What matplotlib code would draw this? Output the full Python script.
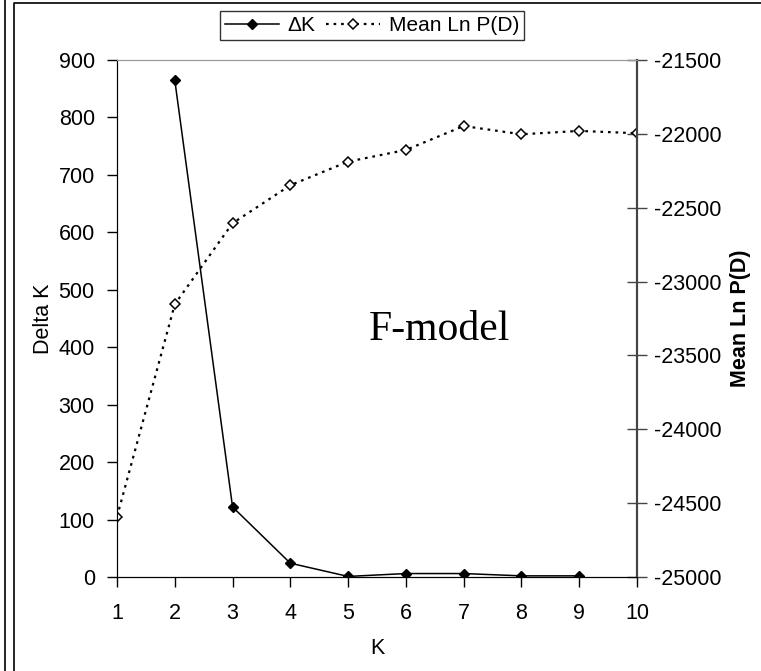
import matplotlib
matplotlib.use("Agg")
import matplotlib.pyplot as plt
from matplotlib.lines import Line2D

plt.rcParams['font.family'] = ['Liberation Sans', 'DejaVu Sans']
plt.rcParams['axes.unicode_minus'] = False

# data
k_all = [1, 2, 3, 4, 5, 6, 7, 8, 9, 10]
k_delta = [2, 3, 4, 5, 6, 7, 8, 9]
delta_k = [865, 122, 24, 1, 6, 6, 2, 2]
mean_lnp = [-24592, -23154, -22605, -22348, -22188, -22109, -21947, -22003, -21980, -21996]

fig = plt.figure(figsize=(7.61, 6.71), dpi=100)
ax = fig.add_axes([117/761, 1 - 577/671, 520/761, 517/671])
ax2 = ax.twinx()

l1, = ax.plot(k_delta, delta_k, color='black', lw=1.1, marker='D', ms=5.5,
              mfc='black', mec='black', zorder=3)
l2, = ax2.plot(k_all, mean_lnp, color='black', lw=1.6, ls=(0, (1.2, 2.2)),
               marker='D', ms=5, mfc='white', mec='black', mew=1.1)

ax.set_xlim(1, 10)
ax.set_ylim(0, 900)
ax2.set_ylim(-25000, -21500)
ax.set_xticks(k_all)
ax.set_yticks(range(0, 901, 100))
ax2.set_yticks(range(-25000, -21499, 500))

ax.tick_params(axis='y', direction='out', length=7, width=1, labelsize=15.5, pad=9)
ax.tick_params(axis='x', direction='out', length=7, width=1, labelsize=15.5, pad=12)
ax2.tick_params(axis='y', direction='inout', length=15, width=1, colors='#444444',
                labelcolor='black', labelsize=15.5, pad=5)

ax.set_xlabel('K', fontsize=15.5, labelpad=10)
ax.set_ylabel('Delta K', fontsize=15.5, labelpad=3)
ax2.set_ylabel('Mean Ln P(D)', fontsize=15.5, fontweight='bold', labelpad=6)

for a in (ax, ax2):
    a.spines['top'].set_color('#999999')
    a.spines['left'].set_color('black')
    a.spines['bottom'].set_color('black')
    a.spines['right'].set_color('#444444')
    a.spines['right'].set_linewidth(1.5)

ax.text(0.621, 0.478, 'F-model', transform=ax.transAxes, fontsize=30,
        family='Liberation Serif', ha='center', va='center')

leg = fig.legend([l1, l2], ['ΔK', 'Mean Ln P(D)'], loc='center',
                 bbox_to_anchor=(372/761, 1 - 25.5/671), ncol=2, fontsize=15,
                 frameon=True, fancybox=False, handlelength=2.6,
                 columnspacing=0.5, handletextpad=0.4, borderpad=0.25)
leg.get_frame().set_edgecolor('black')
leg.get_frame().set_linewidth(1)

# outer frames
fig.add_artist(Line2D([5/761, 5/761], [0, 1], color='black', lw=1.2))
fig.add_artist(Line2D([14/761, 14/761, 1], [0, 1 - 3/671, 1 - 3/671], color='black', lw=1.2))

fig.savefig('out.png', dpi=100)
